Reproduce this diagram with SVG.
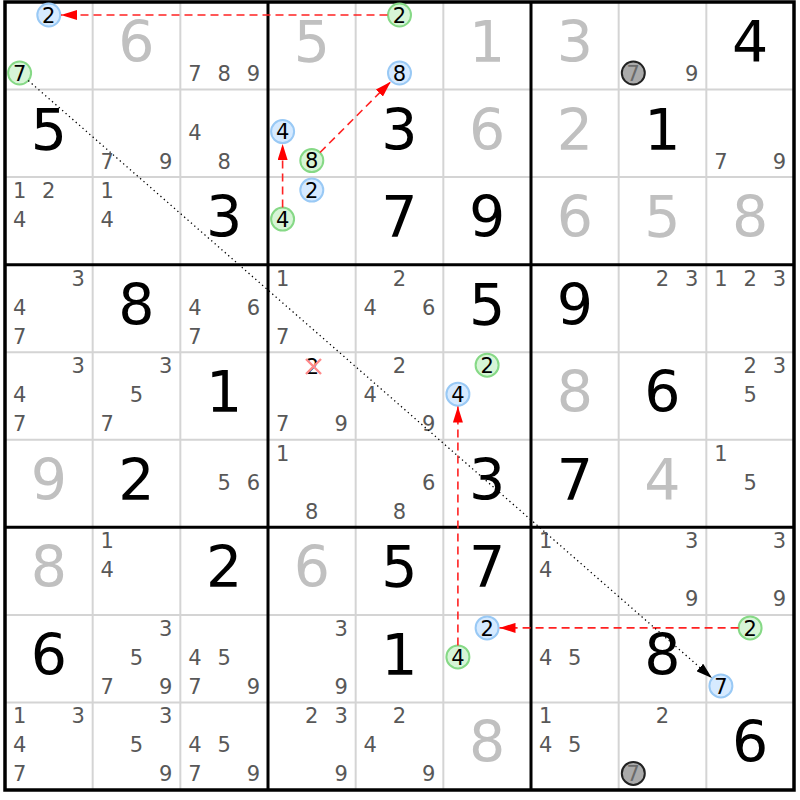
<svg xmlns="http://www.w3.org/2000/svg" width="800" height="800" viewBox="0 0 800 800">
<style>
text{font-family:"DejaVu Sans",Verdana,sans-serif;text-anchor:middle}
.g{font-size:57px;fill:#000}
.s{font-size:57px;fill:#c0c0c0}
.c{font-size:21px;fill:#585858}
.k{font-size:21px;fill:#000}
.kg{font-size:21px;fill:#6a6a6a}
.thin{stroke:#d4d4d4;stroke-width:2}
.thick{stroke:#000;stroke-width:3}
.cb{fill:#d6eaff;stroke:#99c9f5;stroke-width:2}
.cg{fill:#d7f5d7;stroke:#86d986;stroke-width:2}
.cx{fill:#aaaaaa;stroke:#222;stroke-width:2}
.red{stroke:#f22;stroke-width:1.6;stroke-dasharray:8,5;fill:none}
.dot{stroke:#000;stroke-width:1.3;stroke-dasharray:1.3,3.2;fill:none}
</style>
<defs>
<marker id="ar" markerUnits="userSpaceOnUse" markerWidth="16" markerHeight="10" refX="16" refY="5" orient="auto"><path d="M0,0 L16,5 L0,10 z" fill="#f00"/></marker>
<marker id="ab" markerUnits="userSpaceOnUse" markerWidth="16" markerHeight="10" refX="16" refY="5" orient="auto"><path d="M0,0 L16,5 L0,10 z" fill="#000"/></marker>
</defs>
<rect x="0" y="0" width="800" height="800" fill="#fff"/>
<g id="grid">
<path class="thin" d="M92.67,2V790M180.33,2V790M355.67,2V790M443.33,2V790M618.67,2V790M706.33,2V790M5,89.56H794M5,177.11H794M5,352.22H794M5,439.78H794M5,614.89H794M5,702.44H794"/>
<path class="thick" d="M268,2V790M531,2V790M5,264.67H794M5,527.33H794"/>
<rect x="5" y="2" width="789" height="788" fill="none" stroke="#000" stroke-width="3.5"/>
</g>
<g id="r1c1"><circle class="cb" cx="48.8" cy="15" r="11.5"/><text class="k" x="48.8" y="22.8">2</text><circle class="cg" cx="19.6" cy="73" r="11.5"/><text class="k" x="19.6" y="80.8">7</text></g>
<g id="r1c2"><text class="s" x="136.5" y="62">6</text></g>
<g id="r1c3"><text class="c" x="194.9" y="81">7</text><text class="c" x="224.1" y="81">8</text><text class="c" x="253.4" y="81">9</text></g>
<g id="r1c4"><text class="s" x="311.8" y="62">5</text></g>
<g id="r1c5"><circle class="cg" cx="399.5" cy="15" r="11.5"/><text class="k" x="399.5" y="22.8">2</text><circle class="cb" cx="399.5" cy="73" r="11.5"/><text class="k" x="399.5" y="80.8">8</text></g>
<g id="r1c6"><text class="s" x="487.2" y="62">1</text></g>
<g id="r1c7"><text class="s" x="574.8" y="62">3</text></g>
<g id="r1c8"><circle class="cx" cx="633.3" cy="73" r="11.5"/><text class="kg" x="633.3" y="80.8">7</text><text class="c" x="691.8" y="81">9</text></g>
<g id="r1c9"><text class="g" x="750.2" y="62">4</text></g>
<g id="r2c1"><text class="g" x="48.8" y="149.6">5</text></g>
<g id="r2c2"><text class="c" x="107.3" y="168.6">7</text><text class="c" x="165.8" y="168.6">9</text></g>
<g id="r2c3"><text class="c" x="194.9" y="139.6">4</text><text class="c" x="224.1" y="168.6">8</text></g>
<g id="r2c4"><circle class="cb" cx="282.6" cy="131.6" r="11.5"/><text class="k" x="282.6" y="139.4">4</text><circle class="cg" cx="311.8" cy="160.6" r="11.5"/><text class="k" x="311.8" y="168.4">8</text></g>
<g id="r2c5"><text class="g" x="399.5" y="149.6">3</text></g>
<g id="r2c6"><text class="s" x="487.2" y="149.6">6</text></g>
<g id="r2c7"><text class="s" x="574.8" y="149.6">2</text></g>
<g id="r2c8"><text class="g" x="662.5" y="149.6">1</text></g>
<g id="r2c9"><text class="c" x="720.9" y="168.6">7</text><text class="c" x="779.4" y="168.6">9</text></g>
<g id="r3c1"><text class="c" x="19.6" y="198.1">1</text><text class="c" x="48.8" y="198.1">2</text><text class="c" x="19.6" y="227.1">4</text></g>
<g id="r3c2"><text class="c" x="107.3" y="198.1">1</text><text class="c" x="107.3" y="227.1">4</text></g>
<g id="r3c3"><text class="g" x="224.2" y="237.1">3</text></g>
<g id="r3c4"><circle class="cb" cx="311.8" cy="190.1" r="11.5"/><text class="k" x="311.8" y="197.9">2</text><circle class="cg" cx="282.6" cy="219.1" r="11.5"/><text class="k" x="282.6" y="226.9">4</text></g>
<g id="r3c5"><text class="g" x="399.5" y="237.1">7</text></g>
<g id="r3c6"><text class="g" x="487.2" y="237.1">9</text></g>
<g id="r3c7"><text class="s" x="574.8" y="237.1">6</text></g>
<g id="r3c8"><text class="s" x="662.5" y="237.1">5</text></g>
<g id="r3c9"><text class="s" x="750.2" y="237.1">8</text></g>
<g id="r4c1"><text class="c" x="78.1" y="285.7">3</text><text class="c" x="19.6" y="314.7">4</text><text class="c" x="19.6" y="343.7">7</text></g>
<g id="r4c2"><text class="g" x="136.5" y="324.7">8</text></g>
<g id="r4c3"><text class="c" x="194.9" y="314.7">4</text><text class="c" x="253.4" y="314.7">6</text><text class="c" x="194.9" y="343.7">7</text></g>
<g id="r4c4"><text class="c" x="282.6" y="285.7">1</text><text class="c" x="282.6" y="343.7">7</text></g>
<g id="r4c5"><text class="c" x="399.5" y="285.7">2</text><text class="c" x="370.3" y="314.7">4</text><text class="c" x="428.8" y="314.7">6</text></g>
<g id="r4c6"><text class="g" x="487.2" y="324.7">5</text></g>
<g id="r4c7"><text class="g" x="574.8" y="324.7">9</text></g>
<g id="r4c8"><text class="c" x="662.5" y="285.7">2</text><text class="c" x="691.8" y="285.7">3</text></g>
<g id="r4c9"><text class="c" x="720.9" y="285.7">1</text><text class="c" x="750.1" y="285.7">2</text><text class="c" x="779.4" y="285.7">3</text></g>
<g id="r5c1"><text class="c" x="78.1" y="373.2">3</text><text class="c" x="19.6" y="402.2">4</text><text class="c" x="19.6" y="431.2">7</text></g>
<g id="r5c2"><text class="c" x="165.8" y="373.2">3</text><text class="c" x="136.5" y="402.2">5</text><text class="c" x="107.3" y="431.2">7</text></g>
<g id="r5c3"><text class="g" x="224.2" y="412.2">1</text></g>
<g id="r5c4"><text class="k" x="312.5" y="373.6">2</text><path d="M306,359L321,374M321,359L306,374" stroke="#ff8a8a" stroke-width="2.4"/><text class="c" x="282.6" y="431.2">7</text><text class="c" x="341.1" y="431.2">9</text></g>
<g id="r5c5"><text class="c" x="399.5" y="373.2">2</text><text class="c" x="370.3" y="402.2">4</text><text class="c" x="428.8" y="431.2">9</text></g>
<g id="r5c6"><circle class="cg" cx="487.1" cy="365.2" r="11.5"/><text class="k" x="487.1" y="373">2</text><circle class="cb" cx="457.9" cy="394.2" r="11.5"/><text class="k" x="457.9" y="402">4</text></g>
<g id="r5c7"><text class="s" x="574.8" y="412.2">8</text></g>
<g id="r5c8"><text class="g" x="662.5" y="412.2">6</text></g>
<g id="r5c9"><text class="c" x="750.1" y="373.2">2</text><text class="c" x="779.4" y="373.2">3</text><text class="c" x="750.1" y="402.2">5</text></g>
<g id="r6c1"><text class="s" x="48.8" y="499.8">9</text></g>
<g id="r6c2"><text class="g" x="136.5" y="499.8">2</text></g>
<g id="r6c3"><text class="c" x="224.1" y="489.8">5</text><text class="c" x="253.4" y="489.8">6</text></g>
<g id="r6c4"><text class="c" x="282.6" y="460.8">1</text><text class="c" x="311.8" y="518.8">8</text></g>
<g id="r6c5"><text class="c" x="428.8" y="489.8">6</text><text class="c" x="399.5" y="518.8">8</text></g>
<g id="r6c6"><text class="g" x="487.2" y="499.8">3</text></g>
<g id="r6c7"><text class="g" x="574.8" y="499.8">7</text></g>
<g id="r6c8"><text class="s" x="662.5" y="499.8">4</text></g>
<g id="r6c9"><text class="c" x="720.9" y="460.8">1</text><text class="c" x="750.1" y="489.8">5</text></g>
<g id="r7c1"><text class="s" x="48.8" y="587.3">8</text></g>
<g id="r7c2"><text class="c" x="107.3" y="548.3">1</text><text class="c" x="107.3" y="577.3">4</text></g>
<g id="r7c3"><text class="g" x="224.2" y="587.3">2</text></g>
<g id="r7c4"><text class="s" x="311.8" y="587.3">6</text></g>
<g id="r7c5"><text class="g" x="399.5" y="587.3">5</text></g>
<g id="r7c6"><text class="g" x="487.2" y="587.3">7</text></g>
<g id="r7c7"><text class="c" x="545.6" y="548.3">1</text><text class="c" x="545.6" y="577.3">4</text></g>
<g id="r7c8"><text class="c" x="691.8" y="548.3">3</text><text class="c" x="691.8" y="606.3">9</text></g>
<g id="r7c9"><text class="c" x="779.4" y="548.3">3</text><text class="c" x="779.4" y="606.3">9</text></g>
<g id="r8c1"><text class="g" x="48.8" y="674.9">6</text></g>
<g id="r8c2"><text class="c" x="165.8" y="635.9">3</text><text class="c" x="136.5" y="664.9">5</text><text class="c" x="107.3" y="693.9">7</text><text class="c" x="165.8" y="693.9">9</text></g>
<g id="r8c3"><text class="c" x="194.9" y="664.9">4</text><text class="c" x="224.1" y="664.9">5</text><text class="c" x="194.9" y="693.9">7</text><text class="c" x="253.4" y="693.9">9</text></g>
<g id="r8c4"><text class="c" x="341.1" y="635.9">3</text><text class="c" x="341.1" y="693.9">9</text></g>
<g id="r8c5"><text class="g" x="399.5" y="674.9">1</text></g>
<g id="r8c6"><circle class="cb" cx="487.1" cy="627.9" r="11.5"/><text class="k" x="487.1" y="635.7">2</text><circle class="cg" cx="457.9" cy="656.9" r="11.5"/><text class="k" x="457.9" y="664.7">4</text></g>
<g id="r8c7"><text class="c" x="545.6" y="664.9">4</text><text class="c" x="574.8" y="664.9">5</text></g>
<g id="r8c8"><text class="g" x="662.5" y="674.9">8</text></g>
<g id="r8c9"><circle class="cg" cx="750.1" cy="627.9" r="11.5"/><text class="k" x="750.1" y="635.7">2</text><circle class="cb" cx="720.9" cy="685.9" r="11.5"/><text class="k" x="720.9" y="693.7">7</text></g>
<g id="r9c1"><text class="c" x="19.6" y="723.4">1</text><text class="c" x="78.1" y="723.4">3</text><text class="c" x="19.6" y="752.4">4</text><text class="c" x="19.6" y="781.4">7</text></g>
<g id="r9c2"><text class="c" x="165.8" y="723.4">3</text><text class="c" x="136.5" y="752.4">5</text><text class="c" x="165.8" y="781.4">9</text></g>
<g id="r9c3"><text class="c" x="194.9" y="752.4">4</text><text class="c" x="224.1" y="752.4">5</text><text class="c" x="194.9" y="781.4">7</text><text class="c" x="253.4" y="781.4">9</text></g>
<g id="r9c4"><text class="c" x="311.8" y="723.4">2</text><text class="c" x="341.1" y="723.4">3</text><text class="c" x="341.1" y="781.4">9</text></g>
<g id="r9c5"><text class="c" x="399.5" y="723.4">2</text><text class="c" x="370.3" y="752.4">4</text><text class="c" x="428.8" y="781.4">9</text></g>
<g id="r9c6"><text class="s" x="487.2" y="762.4">8</text></g>
<g id="r9c7"><text class="c" x="545.6" y="723.4">1</text><text class="c" x="545.6" y="752.4">4</text><text class="c" x="574.8" y="752.4">5</text></g>
<g id="r9c8"><text class="c" x="662.5" y="723.4">2</text><circle class="cx" cx="633.3" cy="773.4" r="11.5"/><text class="kg" x="633.3" y="781.2">7</text></g>
<g id="r9c9"><text class="g" x="750.2" y="762.4">6</text></g>
<g id="connectors">
<path class="red" d="M387.5,15 L61,15" marker-end="url(#ar)"/>
<path class="red" d="M282.6,207.6 L282.6,144" marker-end="url(#ar)"/>
<path class="red" d="M320,152.5 L390.7,81.7" marker-end="url(#ar)"/>
<path class="red" d="M457.9,645.4 L457.9,406.5" marker-end="url(#ar)"/>
<path class="red" d="M738.6,627.9 L499.5,627.9" marker-end="url(#ar)"/>
<path class="dot" d="M28.3,80.6 L711.9,678" marker-end="url(#ab)"/>
</g>
</svg>
